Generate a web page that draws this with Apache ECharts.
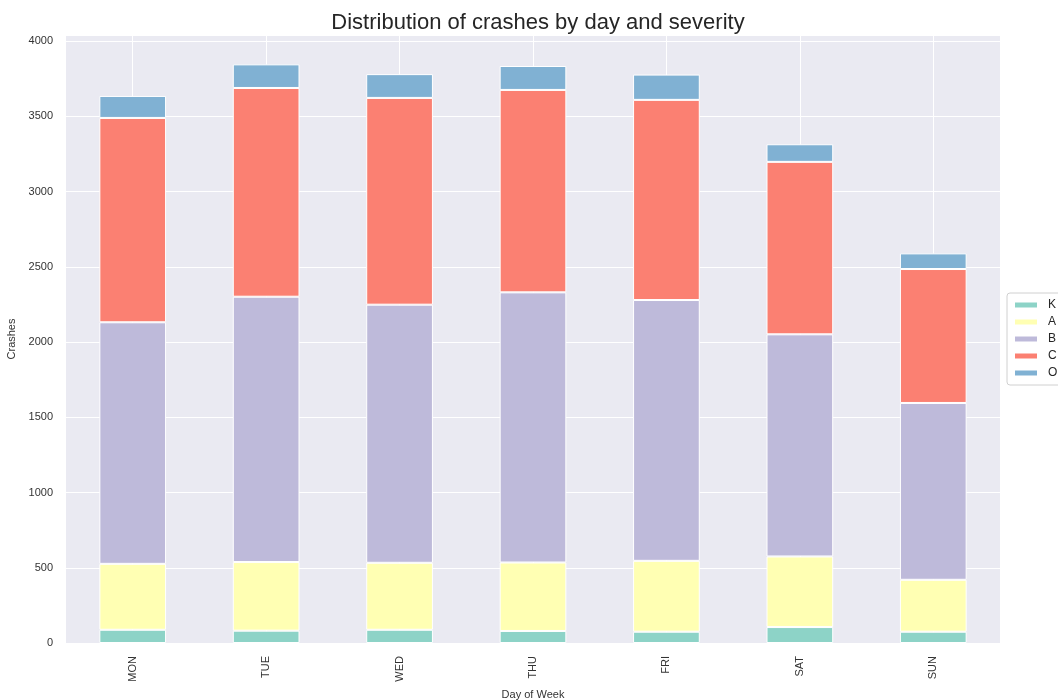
<!DOCTYPE html>
<html>
<head>
	<meta charset="utf-8"/>
	<title>Crashes by day and severity</title>
	<style>
		* {
			margin: 0;
			padding: 0;
		}
		html, body {
			width: 100%;
			height: 100%;
			background: #fff;
		}
		#main {
			width: 1058px;
			height: 700px;
		}
	</style>
</head>
<body>

	<div id="main"></div>

	<script src="https://cdn.jsdelivr.net/npm/echarts@6/dist/echarts.min.js"></script>
	<script>
		// data
		var days = ['MON', 'TUE', 'WED', 'THU', 'FRI', 'SAT', 'SUN'];
		var severities = ['K', 'A', 'B', 'C', 'O'];
		var kValues = [88, 82, 88, 80, 75, 106, 75];
		var aValues = [438, 456, 445, 455, 471, 469, 345];
		var bValues = [1605, 1763, 1715, 1795, 1733, 1476, 1175];
		var cValues = [1358, 1387, 1374, 1345, 1330, 1146, 890];
		var oValues = [146, 157, 158, 159, 168, 117, 104];
		var colors = ['#8dd3c7', '#ffffb3', '#bebada', '#fb8072', '#80b1d3'];

		var seriesValues = [kValues, aValues, bValues, cValues, oValues];
		var font = 'Liberation Sans, Arial, sans-serif';

		var myChart = echarts.init(document.getElementById('main'));

		var option = {
			color: colors,
			animation: false,
			title: {
				text: 'Distribution of crashes by day and severity',
				left: 533,
				textAlign: 'center',
				top: 7,
				textStyle: {
					fontFamily: font,
					fontSize: 22,
					fontWeight: 'normal',
					color: '#262626'
				}
			},
			legend: {
				orient: 'vertical',
				left: 1007,
				top: 293,
				data: severities,
				icon: 'rect',
				itemWidth: 24,
				itemHeight: 7,
				itemGap: 5,
				padding: [6, 10, 6, 6],
				backgroundColor: 'rgba(255,255,255,0.9)',
				borderColor: '#d0d0d0',
				borderWidth: 1,
				borderRadius: 3,
				textStyle: {
					fontFamily: font,
					fontSize: 12,
					lineHeight: 12,
					color: '#262626',
					padding: [0, 0, 0, 5]
				}
			},
			grid: {
				left: 66,
				right: 58,
				top: 35,
				bottom: 57,
				outerBoundsMode: 'none',
				containLabel: false,
				show: true,
				backgroundColor: '#eaeaf2',
				borderWidth: 0
			},
			xAxis: {
				type: 'category',
				data: days,
				name: 'Day of Week',
				nameLocation: 'middle',
				nameGap: 43,
				nameTextStyle: {
					fontFamily: font,
					fontSize: 11,
					color: '#333'
				},
				axisLine: { show: false },
				axisTick: { show: false },
				axisLabel: {
					rotate: 90,
					margin: 13,
					fontFamily: font,
					fontSize: 11,
					color: '#333'
				},
				splitLine: {
					show: true,
					alignWithLabel: true,
					lineStyle: { color: '#fff', width: 1 }
				}
			},
			yAxis: {
				type: 'value',
				min: 0,
				max: 4040,
				interval: 500,
				name: 'Crashes',
				nameLocation: 'middle',
				nameGap: 43,
				nameTextStyle: {
					fontFamily: font,
					fontSize: 11,
					color: '#333'
				},
				axisLine: { show: false },
				axisTick: { show: false },
				axisLabel: {
					margin: 13,
					showMaxLabel: false,
					fontFamily: font,
					fontSize: 11,
					color: '#333',
					formatter: function (v) {
						return v % 500 === 0 ? String(v) : '';
					}
				},
				splitLine: {
					lineStyle: { color: '#fff', width: 1 }
				}
			},
			series: severities.map(function (name, i) {
				return {
					name: name,
					type: 'bar',
					stack: 'total',
					barWidth: '50%',
					data: seriesValues[i],
					itemStyle: {
						color: colors[i],
						borderColor: '#fff',
						borderWidth: 1
					}
				};
			})
		};

		myChart.setOption(option);
	</script>
</body>
</html>
